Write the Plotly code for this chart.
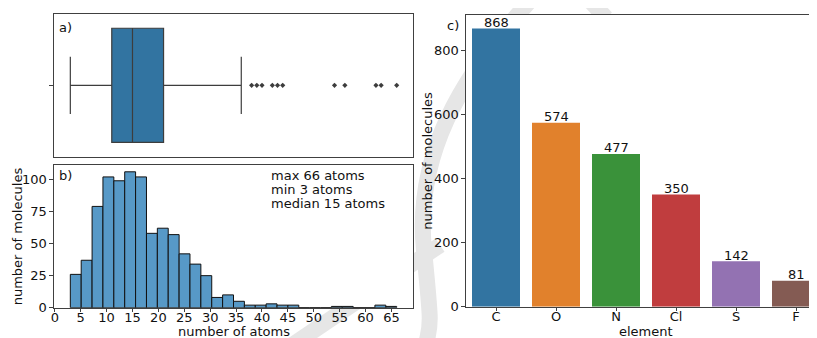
import plotly.graph_objects as go

# ---------------- data ----------------
# a) box plot statistics (number of atoms)
box_min = 3
box_q1 = 11
box_median = 15
box_q3 = 21
box_upper_whisker = 36
box_outliers = [38, 39, 40, 42, 43, 44, 54, 56, 62, 63, 66]

# b) histogram of number of atoms
hist_bin_start = 3.0
hist_bin_width = 2.1
hist_counts = [26, 37, 79, 102, 99, 106, 102, 58, 62, 57,
               42, 34, 25, 8, 10, 5, 2, 2, 3, 2,
               2, 0, 0, 0, 1, 1, 0, 0, 2, 1]
hist_xticks = [0, 5, 10, 15, 20, 25, 30, 35, 40, 45, 50, 55, 60, 65]
hist_yticks = [0, 25, 50, 75, 100]
stats_lines = ["max 66 atoms", "min 3 atoms", "median 15 atoms"]

# c) molecules containing each element
elements = ["C", "O", "N", "Cl", "S", "F"]
element_counts = [868, 574, 477, 350, 142, 81]
element_colors = ["#3274a1", "#e1812c", "#3a923a", "#c03d3e", "#9372b2", "#845b53"]
c_yticks = [0, 200, 400, 600, 800]

# ---------------- figure ----------------
W, H = 817, 338      # browser window
OFF = 8              # default page body margin
FW, FH = W - OFF, H - OFF
FONT = "DejaVu Sans"
FS = 13
AX = "#404040"
TXT = "#111111"


def px_x(p):
    return (p - OFF) / FW


def px_y(p):
    return 1 - (p - OFF) / FH


hist_centers = [hist_bin_start + hist_bin_width * (i + 0.5) for i in range(len(hist_counts))]

fig = go.Figure()

# a) box plot
fig.add_trace(go.Box(
    y=[0], q1=[box_q1], median=[box_median], q3=[box_q3],
    lowerfence=[box_min], upperfence=[box_upper_whisker],
    orientation="h", width=0.8, whiskerwidth=0.5,
    fillcolor="#3274a1", line=dict(color="#3d3d3d", width=1.2),
    boxpoints=False, xaxis="x", yaxis="y", showlegend=False, hoverinfo="skip",
))
fig.add_trace(go.Scatter(
    x=box_outliers, y=[0] * len(box_outliers), mode="markers",
    marker=dict(symbol="diamond", size=4, color="#3d3d3d"),
    xaxis="x", yaxis="y", showlegend=False, hoverinfo="skip",
))

# b) histogram
fig.add_trace(go.Bar(
    x=hist_centers, y=hist_counts, width=hist_bin_width,
    marker=dict(color="#5799c7", line=dict(color="#111111", width=1)),
    xaxis="x2", yaxis="y2", showlegend=False, hoverinfo="skip",
))

# c) element bars
fig.add_trace(go.Bar(
    x=elements, y=element_counts, width=0.8,
    marker=dict(color=element_colors, line=dict(width=0)),
    xaxis="x3", yaxis="y3", showlegend=False, hoverinfo="skip",
))

common_axis = dict(showgrid=False, zeroline=False, showline=True, linecolor=AX,
                   linewidth=1.2, automargin=False, ticks="outside", ticklen=3.5,
                   tickcolor=AX, tickfont=dict(family=FONT, size=FS, color=TXT))

ab_x = [px_x(54), px_x(413)]
xr = [-0.15, 69.15]
dom_a = [px_y(156.7), px_y(14)]
dom_b = [px_y(307.7), px_y(165)]
dom_c = [px_y(306.7), px_y(14.7)]
dom_cx = [px_x(466), 1.0]

fig.update_layout(
    width=FW, height=FH, margin=dict(l=0, r=0, t=0, b=0),
    paper_bgcolor="white", plot_bgcolor="rgba(0,0,0,0)", template="none",
    font=dict(family=FONT, size=FS, color=TXT),
    xaxis=dict(common_axis, domain=ab_x, anchor="y", range=xr, mirror=True,
               showticklabels=False, ticks=""),
    yaxis=dict(common_axis, domain=dom_a, anchor="x", range=[-0.5, 0.5],
               mirror=True, tickvals=[0], ticktext=[""]),
    xaxis2=dict(common_axis, domain=ab_x, anchor="y2", range=xr, mirror=True,
                tickvals=hist_xticks, ticklabelstandoff=-6),
    yaxis2=dict(common_axis, domain=dom_b, anchor="x2", range=[0, 111.3],
                mirror=True, tickvals=hist_yticks),
    xaxis3=dict(common_axis, domain=dom_cx, anchor="y3", type="category",
                range=[-0.5, 5.35], mirror=True, ticklabelstandoff=-6),
    yaxis3=dict(common_axis, domain=dom_c, anchor="x3", range=[0, 911.4],
                tickvals=c_yticks),
)

# faint background watermark strokes (behind the axes areas)
wm = dict(type="path", xref="paper", yref="paper", layer="below",
          line=dict(color="#e6e6e6", width=16))


def P(x, y):
    return f"{px_x(x):.4f},{px_y(y):.4f}"


shapes = [
    dict(wm, path=f"M {P(540, -10)} C {P(455, 80)} {P(415, 160)} {P(424, 250)} S {P(430, 320)} {P(425, 350)}"),
    dict(wm, path=f"M {P(285, 350)} L {P(440, 245)}"),
    dict(wm, path=f"M {P(582, -8)} L {P(606, 18)}"),
]
# white axes backgrounds over the watermark
for xd, yd in [(ab_x, dom_a), (ab_x, dom_b), (dom_cx, dom_c)]:
    shapes.append(dict(type="rect", xref="paper", yref="paper", layer="below",
                       x0=xd[0], x1=xd[1], y0=yd[0], y1=yd[1],
                       fillcolor="white", line=dict(width=0)))
fig.update_layout(shapes=shapes)

annotations = [
    dict(text="a)", x=px_x(58), y=px_y(27), xanchor="left", yanchor="middle"),
    dict(text="b)", x=px_x(58), y=px_y(175), xanchor="left", yanchor="middle"),
    dict(text="c)", x=px_x(446), y=px_y(25), xanchor="left", yanchor="middle"),
    dict(text="number of atoms", x=px_x(233.5), y=px_y(331.5), xanchor="center", yanchor="middle"),
    dict(text="element", x=px_x(646), y=px_y(331.5), xanchor="center", yanchor="middle"),
    dict(text="number of molecules", x=px_x(17), y=px_y(236.3), textangle=-90,
         xanchor="center", yanchor="middle"),
    dict(text="number of molecules", x=px_x(428), y=px_y(160.7), textangle=-90,
         xanchor="center", yanchor="middle"),
]
for i, line in enumerate(stats_lines):
    annotations.append(dict(text=line, x=px_x(270), y=px_y(175 + 14.2 * i),
                            xanchor="left", yanchor="middle"))
for a in annotations:
    a.update(xref="paper", yref="paper")
# value labels above the element bars, placed through the data axes
for el, v in zip(elements, element_counts):
    annotations.append(dict(text=str(v), x=el, y=v, xref="x3", yref="y3",
                            xanchor="center", yanchor="middle", yshift=6))
for a in annotations:
    a.update(showarrow=False, borderpad=0, font=dict(family=FONT, size=FS, color=TXT))
fig.update_layout(annotations=annotations)

fig.write_html("out.html")
